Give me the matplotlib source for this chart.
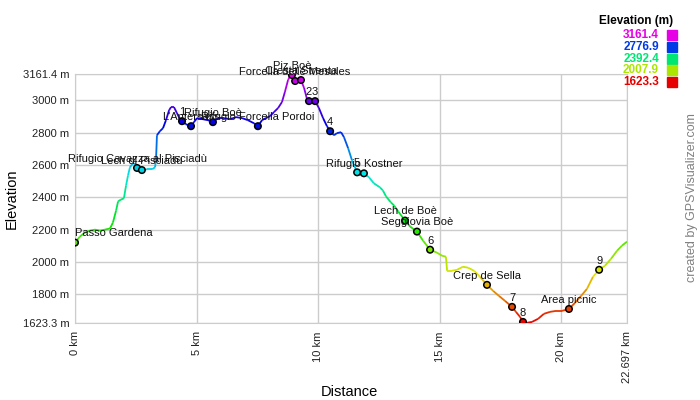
import numpy as np
import matplotlib
matplotlib.use("Agg")
import matplotlib.pyplot as plt
from matplotlib.collections import LineCollection
from matplotlib.colors import hsv_to_rgb

plt.rcParams['font.family'] = ['Liberation Sans', 'DejaVu Sans']

# track profile (km, m)
dist = [0.0, 0.2, 0.41, 0.62, 0.82, 1.03, 1.23, 1.44, 1.56, 1.69, 1.77, 1.89, 2.01, 2.10,
        2.18, 2.26, 2.38, 2.51, 2.55, 2.75, 2.96, 3.17, 3.29, 3.33, 3.37, 3.49, 3.62, 3.74,
        3.87, 3.95, 4.07, 4.19, 4.32, 4.40, 4.56, 4.77, 4.89, 5.02, 5.26, 5.47, 5.67, 5.88,
        6.13, 6.37, 6.62, 6.87, 7.11, 7.36, 7.52, 7.69, 7.85, 8.02, 8.18, 8.35, 8.51, 8.63,
        8.76, 8.84, 8.90, 8.95, 9.05, 9.29, 9.42, 9.54, 9.62, 9.87, 10.03, 10.20, 10.36,
        10.49, 10.65, 10.77, 10.94, 11.06, 11.23, 11.39, 11.60, 11.72, 11.88, 12.09, 12.29,
        12.54, 12.66, 12.79, 12.99, 13.12, 13.29, 13.57, 13.78, 14.06, 14.31, 14.60, 14.88,
        15.09, 15.25, 15.30, 15.50, 15.71, 15.95, 16.16, 16.41, 16.65, 16.94, 17.19, 17.43,
        17.68, 17.97, 18.13, 18.30, 18.42, 18.54, 18.79, 19.04, 19.28, 19.53, 19.78, 20.02,
        20.31, 20.56, 20.81, 21.05, 21.30, 21.55, 21.79, 22.04, 22.29, 22.49, 22.697]
elev = [2120, 2157, 2182, 2194, 2200, 2194, 2200, 2207, 2244, 2318, 2374, 2386, 2393, 2473,
        2535, 2585, 2610, 2604, 2581, 2568, 2573, 2573, 2585, 2628, 2783, 2808, 2827, 2876,
        2938, 2957, 2957, 2920, 2882, 2870, 2851, 2839, 2864, 2889, 2882, 2876, 2864, 2889,
        2889, 2882, 2895, 2889, 2876, 2857, 2839, 2876, 2889, 2901, 2926, 2951, 2988, 3050,
        3124, 3149, 3161.4, 3155, 3118, 3124, 3075, 3006, 2994, 2994, 2951, 2889, 2839,
        2808, 2783, 2796, 2802, 2771, 2703, 2628, 2554, 2535, 2548, 2523, 2486,
        2461, 2442, 2405, 2368, 2349, 2312, 2256, 2219, 2188, 2132, 2076, 2058,
        2039, 2033, 1946, 1946, 1952, 1971, 1965, 1946, 1909, 1859, 1822, 1791,
        1760, 1723, 1692, 1661, 1630, 1623.3, 1630, 1649, 1680, 1692, 1698, 1698,
        1710, 1748, 1791, 1834, 1909, 1952, 1977, 2020, 2070, 2101, 2126]

# waypoints
wp_names = ["Passo Gardena", "Rifugio Cavazza al Pisciadù", "Lech dl Pisciadù", "1",
            "L'Antersass", "Rifugio Boè", "Rifugio Forcella Pordoi", "Piz Boè",
            "Forcella delle Mesules", "Cresta Strenta", "2", "3", "4", "5", "Rifugio Kostner",
            "Lech de Boè", "Seggiovia Boè", "6", "Crep de Sella", "7", "8", "Area picnic", "9"]
wp_dist = [0.0, 2.55, 2.75, 4.40, 4.77, 5.67, 7.52, 8.92, 9.05, 9.29, 9.62, 9.87, 10.49,
           11.60, 11.88, 13.57, 14.06, 14.60, 16.94, 17.97, 18.42, 20.31, 21.55]
wp_elev = [2120, 2581, 2568, 2870, 2839, 2864, 2839, 3155, 3118, 3124, 2994, 2994, 2808,
           2554, 2548, 2256, 2188, 2076, 1859, 1723, 1630, 1710, 1952]

ymin, ymax = 1623.3, 3161.4
xmax = 22.697
yticks = [1623.3, 1800, 2000, 2200, 2400, 2600, 2800, 3000, 3161.4]
ytick_labels = ["1623.3 m", "1800 m", "2000 m", "2200 m", "2400 m", "2600 m", "2800 m",
                "3000 m", "3161.4 m"]
xticks = [0, 5, 10, 15, 20, 22.697]
xtick_labels = ["0 km", "5 km", "10 km", "15 km", "20 km", "22.697 km"]
legend_vals = [3161.4, 2776.9, 2392.4, 2007.9, 1623.3]


def elev_color(e):
    f = np.clip((np.asarray(e, dtype=float) - ymin) / (ymax - ymin), 0, 1)
    hsv = np.stack([f * 300 / 360, np.ones_like(f), np.full_like(f, 0.9)], axis=-1)
    return hsv_to_rgb(hsv)


fig = plt.figure(figsize=(7, 4), dpi=100)
ax = fig.add_axes([75 / 700, 1 - 323 / 400, 552 / 700, 249 / 400])

x = np.array(dist)
y = np.array(elev)
pts = np.column_stack([x, y]).reshape(-1, 1, 2)
segs = np.concatenate([pts[:-1], pts[1:]], axis=1)
lc = LineCollection(segs, colors=elev_color((y[:-1] + y[1:]) / 2), linewidths=1.3, zorder=3)
ax.add_collection(lc)

ax.scatter(wp_dist, wp_elev, s=22, c=elev_color(wp_elev), edgecolors='black',
           linewidths=1.1, zorder=4)
for name, d, e in zip(wp_names, wp_dist, wp_elev):
    ha = 'left' if d == 0 else 'center'
    ax.annotate(name, (d, e), xytext=(0, 3), textcoords='offset points', ha=ha,
                va='bottom', fontsize=8, color='#111111', zorder=5)

ax.set_xlim(0, xmax)
ax.set_ylim(ymin, ymax)
ax.set_xticks(xticks)
ax.set_xticklabels(xtick_labels, rotation=90)
ax.set_yticks(yticks)
ax.set_yticklabels(ytick_labels)
ax.tick_params(length=0, labelsize=8, colors='#222222')
ax.tick_params(axis='x', pad=6)
ax.tick_params(axis='y', pad=4)
ax.grid(True, color='#cccccc', linewidth=1)
for sp in ax.spines.values():
    sp.set_color('#cccccc')
ax.set_xlabel("Distance", fontsize=10.5, va='center')
ax.set_ylabel("Elevation", fontsize=10.5, va='center')
ax.xaxis.set_label_coords(0.497, (323 - 392) / 249)
ax.yaxis.set_label_coords(-63 / 552, 0.5)

# elevation legend
fig.text(636 / 700, 1 - 21 / 400, "Elevation (m)", ha='center', va='center',
         fontsize=8.5, fontweight='bold')
for i, v in enumerate(legend_vals):
    yy = 1 - (35 + i * 11.8) / 400
    fig.text(659 / 700, yy, f"{v:.1f}", ha='right', va='center', fontsize=8.5,
             fontweight='bold', color=elev_color(v))
    fig.patches.append(plt.Rectangle((667 / 700, yy - 5 / 400), 10 / 700, 10 / 400,
                                     transform=fig.transFigure, color=elev_color(v)))

fig.text(692 / 700, 1 - 198 / 400, "created by GPSVisualizer.com", rotation=90,
         ha='center', va='center', fontsize=9, color='#808080')

fig.savefig("out.png", dpi=100)
